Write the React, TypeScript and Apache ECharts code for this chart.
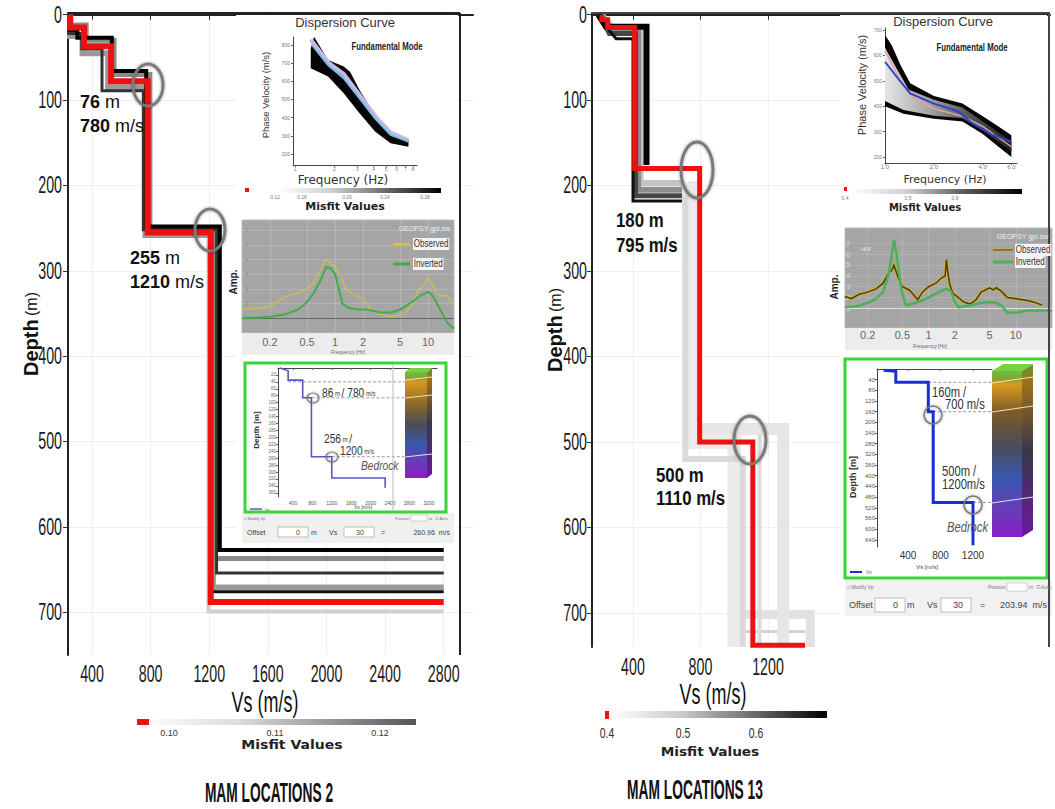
import React, { useEffect, useRef } from "react";
import * as echarts from "echarts";

// ---------------- DATA ----------------
const VS_TICKS_L = [400, 800, 1200, 1600, 2000, 2400, 2800];
const VS_TICKS_R = [400, 800, 1200];
const DEPTH_TICKS = [0, 100, 200, 300, 400, 500, 600, 700];

// MAM location 2 : best (red) profile and ensemble profiles [Vs, depth]
const L_RED = [[250, 0], [250, 15], [345, 15], [345, 37], [530, 37], [530, 78], [780, 78], [780, 255], [1210, 255], [1210, 688], [2800, 688]];
const L_ENS_A = [[245, 0], [245, 18], [300, 18], [300, 27], [535, 27], [535, 66], [770, 66], [770, 248], [1272, 248], [1272, 627], [2800, 627]];
const L_ENS_B = [[240, 0], [240, 22], [330, 22], [330, 40], [468, 40], [468, 89], [750, 89], [750, 252], [1250, 252], [1250, 654], [2800, 654]];
const L_ENS_C = [[255, 0], [255, 12], [360, 12], [360, 30], [550, 30], [550, 70], [795, 70], [795, 250], [1238, 250], [1238, 637], [2800, 637]];
const L_ENS_D = [[250, 0], [250, 25], [335, 25], [335, 45], [510, 45], [510, 85], [765, 85], [765, 258], [1225, 258], [1225, 671], [2800, 671]];
const L_ENS_E = [[1215, 260], [1215, 676], [2800, 676]];
const L_ENS_F = [[1195, 262], [1195, 699], [2800, 699]];

// MAM location 13
const R_RED = [[215, 0], [215, 6], [250, 6], [250, 15], [410, 15], [410, 180], [795, 180], [795, 500], [1110, 500], [1110, 738], [1420, 738]];
const R_BLACK = [[195, 0], [210, 5], [240, 14], [480, 14], [480, 176]];
const R_G1 = [[200, 0], [250, 16], [300, 28], [400, 28], [400, 218], [690, 218]];
const R_G2 = [[205, 0], [260, 22], [415, 22], [415, 212], [690, 212]];
const R_G3 = [[210, 0], [270, 18], [430, 18], [430, 205], [690, 205]];
const R_G4 = [[215, 0], [280, 16], [445, 16], [445, 197], [690, 197]];
const R_L1 = [[690, 205], [735, 205], [735, 500], [1000, 500], [1000, 740]];
const R_L2 = [[690, 215], [710, 215], [710, 520], [1050, 520], [1050, 740]];
const R_L3 = [[760, 195], [760, 485], [1290, 485], [1290, 740]];
const R_L4 = [[1150, 490], [1150, 740]];
const R_L5 = [[1000, 702], [1450, 702], [1450, 740]];
const R_L6 = [[1000, 722], [1420, 722]];

// Dispersion curves [frequency Hz, phase velocity m/s]
const L_DISP_UP = [[1.32, 780], [1.4, 846], [1.79, 717], [2.36, 681], [2.64, 653], [3.12, 552], [3.9, 442], [4.86, 341], [6.06, 295], [7.4, 281]];
const L_DISP_LO = [[7.4, 240], [5.4, 259], [4.1, 323], [3.12, 424], [2.36, 534], [1.79, 626], [1.32, 672]];
const L_DISP_CYAN = [[1.35, 800], [1.79, 690], [2.36, 617], [3.12, 506], [4.1, 396], [5.4, 305], [7.4, 268]];
const L_DISP_PINK = [[1.32, 830], [1.79, 705], [2.36, 640], [3.12, 525], [4.1, 410], [5.4, 318], [7.4, 275]];

const R_DISP_UP = [[1.0, 680], [1.1, 640], [1.25, 560], [1.43, 490], [2.0, 440], [3.0, 410], [4.0, 360], [5.0, 320], [6.0, 285]];
const R_DISP_LO = [[6.0, 200], [5.0, 240], [4.0, 290], [3.0, 340], [2.0, 350], [1.3, 370], [1.0, 400]];
const R_DISP_IN_UP = [[1.0, 630], [1.15, 560], [1.4, 465], [2.0, 425], [3.0, 395], [4.0, 340], [6.0, 262]];
const R_DISP_IN_LO = [[6.0, 222], [4.0, 305], [3.0, 352], [2.0, 362], [1.3, 385], [1.0, 420]];
const R_DISP_BLUE = [[1.0, 575], [1.2, 510], [1.43, 450], [2.0, 410], [2.8, 380], [3.5, 330], [4.5, 290], [6.0, 260]];
const R_DISP_PINK = [[1.0, 620], [1.2, 520], [1.43, 440], [2.0, 390], [3.0, 360], [4.0, 320], [6.0, 240]];

// H/V curves [frequency Hz, amplitude]
const L_HV_OBS = [[0.1, 1.6], [0.15, 1.7], [0.2, 1.8], [0.25, 2.2], [0.3, 2.5], [0.4, 2.7], [0.5, 3.0], [0.6, 3.5], [0.7, 4.3], [0.8, 5.0], [0.9, 4.8], [1.0, 4.5], [1.2, 3.6], [1.3, 3.0], [1.5, 2.7], [1.8, 2.5], [2.2, 2.0], [2.5, 1.5], [3, 1.3], [4, 1.1], [5, 1.2], [6, 1.5], [7, 2.2], [8, 3.0], [9, 3.2], [10, 3.8], [11, 3.4], [12, 2.8], [14, 2.5], [16, 2.6], [19, 1.8]];
const L_HV_INV = [[0.1, 1.0], [0.2, 1.1], [0.3, 1.3], [0.4, 1.6], [0.5, 2.1], [0.6, 2.8], [0.7, 3.6], [0.8, 4.5], [0.9, 4.4], [1.0, 4.0], [1.1, 3.0], [1.2, 2.0], [1.4, 1.7], [1.8, 1.6], [2.2, 1.6], [3, 1.4], [4, 1.4], [5, 1.6], [6, 1.9], [7, 2.2], [8, 2.5], [10, 2.8], [11, 2.6], [12, 2.2], [14, 1.4], [16, 0.7], [19, 0.3]];
const R_HV_OBS = [[0.11, 2.1], [0.13, 1.9], [0.16, 2.3], [0.2, 2.5], [0.25, 2.8], [0.3, 3.3], [0.35, 4.3], [0.38, 4.5], [0.4, 5.0], [0.42, 4.5], [0.45, 3.8], [0.5, 3.0], [0.6, 2.7], [0.65, 2.4], [0.75, 1.8], [0.85, 2.5], [1.0, 3.0], [1.2, 3.3], [1.4, 3.8], [1.55, 4.0], [1.6, 5.5], [1.65, 4.5], [1.75, 3.2], [1.9, 2.4], [2.2, 2.0], [2.5, 1.6], [3, 1.4], [3.5, 1.8], [4, 2.5], [5, 2.9], [5.5, 2.7], [6, 2.9], [7, 2.5], [8, 2.0], [10, 1.9], [12, 1.8], [14, 1.7], [16, 1.6], [20, 1.3]];
const R_HV_INV = [[0.11, 1.1], [0.15, 1.2], [0.2, 1.5], [0.25, 1.9], [0.3, 2.5], [0.35, 4.2], [0.38, 6.0], [0.4, 7.3], [0.43, 6.0], [0.47, 3.5], [0.5, 2.3], [0.55, 1.3], [0.7, 1.5], [1.0, 2.0], [1.3, 2.5], [1.6, 2.8], [1.8, 2.6], [2.0, 1.6], [2.2, 1.1], [3, 1.3], [4, 1.5], [5, 1.6], [6, 1.5], [7, 1.2], [8, 0.6], [10, 0.6], [14, 0.8], [26, 0.8]];

// Inset Vs profiles (green boxes)
const L_INSET_VS = [[130, 0], [300, 8], [300, 35], [600, 35], [600, 86], [780, 86], [780, 256], [1200, 256], [1200, 317], [2300, 317], [2300, 345]];
const L_INSET_DASH = [[300, 40], [780, 86], [1200, 256]];
const R_INSET_VS = [[100, 5], [250, 8], [250, 50], [650, 50], [650, 160], [710, 160], [710, 500], [1200, 500], [1200, 660]];
const R_INSET_DASH = [[650, 50], [710, 160], [1200, 500]];

const DISP_L_FTICKS = [1, 2, 3, 4, 5, 6, 7, 8];
const DISP_L_VTICKS = [200, 300, 400, 500, 600, 700, 800];
const DISP_R_FTICKS = [1, 2, 4, 6];
const DISP_R_VTICKS = [200, 300, 400, 500, 600, 700];
const HV_FTICKS = [0.2, 0.5, 1, 2, 5, 10];
const HV_ATICKS = [1, 2, 3, 4, 5, 6, 7];
const INSET_L_VS_TICKS = [400, 800, 1200, 1600, 2000, 2400, 2800, 3200];
const INSET_L_D_TICKS = [20, 40, 60, 80, 100, 120, 140, 160, 180, 200, 220, 240, 260, 280, 300, 320, 340, 360];
const INSET_R_D_TICKS = [40, 80, 120, 160, 200, 240, 280, 320, 360, 400, 440, 480, 520, 560, 600, 640];

// ---------------- STYLE ----------------
const SANS = "'Liberation Sans',Arial,sans-serif";
const WIDE = "'DejaVu Sans',Verdana,sans-serif";

const line = (data, xi, color, width, z = 3, extra = {}) => ({
  type: "line", xAxisIndex: xi, yAxisIndex: xi, data, symbol: "none", showSymbol: false,
  silent: true, z, clip: false, lineStyle: { color, width, join: "miter", cap: "butt" }, ...extra,
});

const poly = (pts, xi, fill, z = 6) => ({
  type: "custom", xAxisIndex: xi, yAxisIndex: xi, silent: true, z, clip: false,
  data: [pts[0]],
  renderItem: (_p, api) => ({
    type: "polygon",
    shape: { points: pts.map((p) => api.coord(p)) },
    style: { fill },
  }),
});

const dashes = (pts, xi, xEnd, z = 6) => ({
  type: "custom", xAxisIndex: xi, yAxisIndex: xi, silent: true, z, clip: false,
  data: pts,
  renderItem: (_p, api) => {
    const a = api.coord([api.value(0), api.value(1)]);
    const b = api.coord([xEnd, api.value(1)]);
    return { type: "line", shape: { x1: a[0], y1: a[1], x2: b[0], y2: b[1] }, style: { stroke: "#999", lineWidth: 1, lineDash: [3, 2] } };
  },
});

const txt = (text, x, y, o: any = {}) => ({
  type: "text", x, y, z: o.z ?? 30, rotation: o.rot ?? 0, scaleX: o.sx ?? 1, scaleY: o.sy ?? 1,
  style: {
    text, fill: o.color ?? "#222", fontSize: o.size ?? 12, fontFamily: o.font ?? SANS,
    fontWeight: o.weight ?? "normal", fontStyle: o.fstyle ?? "normal",
    textAlign: o.align ?? "left", textVerticalAlign: o.valign ?? "middle", verticalAlign: o.valign ?? "middle",
    rich: o.rich, backgroundColor: o.bg, padding: o.pad,
  },
});
const rect = (x, y, w, h, style, z = 1) => ({ type: "rect", z, shape: { x, y, width: w, height: h }, style });
const seg = (x1, y1, x2, y2, stroke, lineWidth = 1, z = 25) => ({ type: "line", z, shape: { x1, y1, x2, y2 }, style: { stroke, lineWidth } });
const ell = (cx, cy, rx, ry, lw = 3, z = 25) => ({ type: "ellipse", z, shape: { cx, cy, rx, ry }, style: { fill: "none", stroke: "#7a7a7a", lineWidth: lw, shadowBlur: 3, shadowColor: "rgba(0,0,0,0.4)" } });
const hgrad = (stops) => new echarts.graphic.LinearGradient(0, 0, 1, 0, stops.map((c, i) => ({ offset: i / (stops.length - 1), color: c })));
const vgrad = (stops) => new echarts.graphic.LinearGradient(0, 0, 0, 1, stops.map(([o, c]) => ({ offset: o, color: c })));

const mainX = (min, max, ticks) => ({
  type: "value", min, max, z: 0,
  axisLine: { show: true, lineStyle: { color: "#222", width: 2 } },
  axisTick: { show: true, length: 5, customValues: ticks, lineStyle: { color: "#333" } },
  axisLabel: { show: false, customValues: ticks },
  splitLine: { show: true, lineStyle: { color: "#efefef" } },
});
const mainY = (max) => ({
  type: "value", inverse: true, min: -2, max, z: 0,
  axisLine: { show: true, lineStyle: { color: "#222", width: 2 } },
  axisTick: { show: true, length: 5, customValues: DEPTH_TICKS, lineStyle: { color: "#333" } },
  axisLabel: { show: false, customValues: DEPTH_TICKS },
  splitLine: { show: true, lineStyle: { color: "#efefef" } },
  name: "{b|Depth} {n|(m)}", nameLocation: "middle", nameGap: 27,
  nameTextStyle: { rich: { b: { fontSize: 20, fontWeight: "bold", fontFamily: SANS, color: "#111" }, n: { fontSize: 16, fontFamily: SANS, color: "#111" } } },
});
const smallAx = (o: any) => ({
  z: 5, axisLine: { show: o.line !== false, lineStyle: { color: o.lc ?? "#444", width: 1 } },
  axisTick: { show: o.tick !== false, length: 2, customValues: o.ticks, lineStyle: { color: "#666" } },
  axisLabel: { customValues: o.ticks, fontSize: o.fs, color: o.color ?? "#777", margin: o.margin ?? 3, fontFamily: o.font ?? SANS, inside: !!o.inside, formatter: o.fmt ?? ((v) => String(v)) },
  splitLine: { show: !!o.split, lineStyle: { color: o.split ?? "#ddd", width: 1 } },
});

export default function App() {
  const ref = useRef<HTMLDivElement>(null);
  useEffect(() => {
    const chart = echarts.init(ref.current, null, { renderer: "svg" });
    const grid = [
      { left: 68, top: 13, width: 405, height: 642 },
      { left: 293, top: 37, width: 124, height: 128 },
      { left: 242, top: 220, width: 212, height: 113 },
      { left: 278, top: 368, width: 159, height: 129 },
      { left: 592, top: 13, width: 458, height: 634 },
      { left: 885, top: 28, width: 132, height: 135 },
      { left: 845, top: 228, width: 207, height: 100 },
      { left: 877, top: 369, width: 115, height: 178 },
    ];
    const xAxis = [
      { gridIndex: 0, ...mainX(236, 3000, VS_TICKS_L) },
      { gridIndex: 1, type: "log", min: 0.965, max: 8.6, ...smallAx({ ticks: DISP_L_FTICKS, fs: 5, margin: 1 }) },
      { gridIndex: 2, type: "log", min: 0.1, max: 19, ...smallAx({ ticks: HV_FTICKS, fs: 11, color: "#666", line: false, tick: false, margin: 3, split: "rgba(255,255,255,0.18)" }) },
      { gridIndex: 3, type: "value", min: 91, max: 3369, ...smallAx({ ticks: INSET_L_VS_TICKS, fs: 5, color: "#555" }) },
      { gridIndex: 4, ...mainX(157, 2871, VS_TICKS_R) },
      { gridIndex: 5, type: "log", min: 1, max: 6.5, ...smallAx({ ticks: DISP_R_FTICKS, fs: 6, margin: 1, fmt: (v) => Number(v).toFixed(1) }) },
      { gridIndex: 6, type: "log", min: 0.11, max: 26, ...smallAx({ ticks: HV_FTICKS, fs: 11, color: "#666", line: false, tick: false, margin: 1, split: "rgba(255,255,255,0.15)" }) },
      { gridIndex: 7, type: "value", min: 18.5, max: 1434, ...smallAx({ ticks: VS_TICKS_R, fs: 10, color: "#333" }) },
    ];
    const yAxis = [
      { gridIndex: 0, ...mainY(750) },
      { gridIndex: 1, type: "value", min: 139, max: 844, ...smallAx({ ticks: DISP_L_VTICKS, fs: 5 }) },
      { gridIndex: 2, type: "value", min: 0, max: 7.7, ...smallAx({ ticks: HV_ATICKS, fs: 6, color: "#8a8a8a", line: false, tick: false, inside: true, split: "rgba(255,255,255,0.18)" }) },
      { gridIndex: 3, type: "value", inverse: true, min: 0, max: 372, ...smallAx({ ticks: INSET_L_D_TICKS, fs: 4.5, color: "#666", margin: 2 }) },
      { gridIndex: 4, ...mainY(740) },
      { gridIndex: 5, type: "value", min: 176, max: 708, ...smallAx({ ticks: DISP_R_VTICKS, fs: 5 }) },
      { gridIndex: 6, type: "value", min: -0.8, max: 8.4, ...smallAx({ ticks: HV_ATICKS, fs: 8, color: "#d8d8d8", line: false, tick: false, inside: true, margin: 1, split: "rgba(255,255,255,0.15)" }) },
      { gridIndex: 7, type: "value", inverse: true, min: 0, max: 667, ...smallAx({ ticks: INSET_R_D_TICKS, fs: 6, color: "#555", margin: 2 }) },
    ];

    const series = [
      // left main
      line(L_ENS_F, 0, "#d0d0d0", 4, 3),
      line(L_ENS_D, 0, "#9a9a9a", 6, 3),
      line(L_ENS_E, 0, "#111", 3, 3),
      line(L_ENS_C, 0, "#8a8a8a", 5, 3),
      line(L_ENS_B, 0, "#333", 3, 3),
      line(L_ENS_A, 0, "#000", 4, 3),
      line(L_RED, 0, "#ee1111", 6, 4),
      // left dispersion
      poly([...L_DISP_UP, ...L_DISP_LO], 1, "#050505", 6),
      line(L_DISP_PINK, 1, "#c9b8e6", 4, 7),
      line(L_DISP_CYAN, 1, "#6fc6e8", 2, 8),
      // left HV
      line(L_HV_OBS, 2, "#cdbb5a", 1.5, 7, { markLine: { silent: true, symbol: "none", label: { show: false }, lineStyle: { color: "#666", width: 1, type: "solid" }, data: [{ yAxis: 1 }] } }),
      line(L_HV_INV, 2, "#3fae49", 2, 8),
      // left inset Vs
      dashes(L_INSET_DASH, 3, 2709),
      line(L_INSET_VS, 3, "#5656c8", 1.6, 8),
      // right main
      line(R_L6, 4, "#d2d2d2", 3, 2),
      line(R_L5, 4, "#e2e2e2", 9, 2),
      line(R_L3, 4, "#e6e6e6", 12, 2),
      line(R_L1, 4, "#ebebeb", 14, 2),
      line(R_L2, 4, "#dadada", 6, 2),
      line(R_L4, 4, "#dcdcdc", 4, 2),
      line(R_G4, 4, "#c4c4c4", 6, 3),
      line(R_G3, 4, "#8c8c8c", 6, 3),
      line(R_G2, 4, "#454545", 5, 3),
      line(R_G1, 4, "#111", 3, 3),
      line(R_BLACK, 4, "#000", 6, 3),
      line(R_RED, 4, "#ee1111", 5, 4),
      // right dispersion
      poly([...R_DISP_UP, ...R_DISP_LO], 5, "#050505", 6),
      poly([...R_DISP_IN_UP, ...R_DISP_IN_LO], 5, hgrad(["#e6e6e6", "#a8a8a8", "#555", "#222"]), 6),
      line(R_DISP_PINK, 5, "#e3a0a8", 1.5, 7),
      line(R_DISP_BLUE, 5, "#2847c8", 2, 8),
      // right HV
      line(R_HV_OBS, 6, "#c9b23e", 3.5, 7, { markLine: { silent: true, symbol: "none", label: { show: false }, lineStyle: { color: "#e0e0e0", width: 1, type: "solid" }, data: [{ yAxis: 1 }] } }),
      line(R_HV_OBS, 6, "#4a3c18", 1.5, 8),
      line(R_HV_INV, 6, "#4cb05a", 2.5, 8),
      // right inset Vs
      dashes(R_INSET_DASH, 7, 1434),
      line(R_INSET_VS, 7, "#1a2fd0", 3, 8),
    ];

    chart.setOption({ animation: false, backgroundColor: "#fff", grid, xAxis, yAxis, series });

    // main tick labels placed through the axes' own scales
    const tickLabels: any[] = [];
    const addX = (ticks, axis, yPix) => ticks.forEach((v) => {
      const px = chart.convertToPixel({ xAxisIndex: axis }, v) as number;
      tickLabels.push(txt(String(v), px, yPix, { size: 23, sx: 0.62, align: "center", color: "#1a1a1a" }));
    });
    const addY = (axis, xPix) => DEPTH_TICKS.forEach((v) => {
      const py = chart.convertToPixel({ yAxisIndex: axis }, v) as number;
      tickLabels.push(txt(String(v), xPix, py, { size: 23, sx: 0.62, align: "right", color: "#1a1a1a" }));
    });
    addX(VS_TICKS_L, 0, 674);
    addX(VS_TICKS_R, 4, 667);
    addY(0, 62);
    addY(4, 587);

    const colL = vgrad([[0, "#6cc040"], [0.06, "#8aa030"], [0.09, "#d99a20"], [0.3, "#8a6a2a"], [0.5, "#4c4c58"], [0.7, "#3858b0"], [0.85, "#6a3ab8"], [1, "#8a1ec8"]]);
    const colR = vgrad([[0, "#6cc040"], [0.05, "#8aa030"], [0.08, "#d99a20"], [0.25, "#7a5a2a"], [0.45, "#4c4c58"], [0.65, "#3858b0"], [0.85, "#6a3ab8"], [1, "#8a1ec8"]]);
    const rb = { fontSize: 18, fontWeight: "bold", fontFamily: SANS, fill: "#111" };
    const rn = { fontSize: 18, fontFamily: SANS, fill: "#111" };
    const ia = { fontSize: 12, fontFamily: SANS, fill: "#333" };
    const ib = { fontSize: 7, fontFamily: SANS, fill: "#333" };

    const graphic = [
      ...tickLabels,
      // frames
      seg(68, 13, 460, 13, "#222", 2, 20), seg(460, 13, 460, 655, "#222", 2, 20),
      seg(592, 13, 1050, 13, "#444", 2, 20), seg(1049, 13, 1049, 647, "#444", 2, 20),
      // inset backgrounds (left)
      rect(236, 15, 222, 528, { fill: "#fff" }, 1),
      rect(242, 220, 212, 113, { fill: "#a5a5a5", stroke: "#bbb", lineWidth: 1 }, 2),
      rect(242, 333, 212, 22, { fill: "#ececec" }, 2),
      rect(242, 513, 212, 30, { fill: "#f0f0f0" }, 2),
      rect(245, 363, 201, 149, { fill: "#fff", stroke: "#38d438", lineWidth: 3 }, 2),
      // inset backgrounds (right)
      rect(840, 15, 207, 602, { fill: "#fff" }, 1),
      rect(845, 228, 207, 100, { fill: "#a5a5a5", stroke: "#bbb", lineWidth: 1 }, 2),
      rect(845, 328, 207, 22, { fill: "#ececec" }, 2),
      rect(845, 580, 207, 36, { fill: "#f1f1f1" }, 2),
      rect(845, 359, 202, 219, { fill: "#fff", stroke: "#38d438", lineWidth: 3 }, 2),

      // main ellipses
      ell(148, 85, 15, 21), ell(210, 230, 15, 21), ell(697, 170, 16, 28), ell(750, 440, 16, 24),
      // main annotations
      txt("{b|76}{n| m}", 80, 102, { rich: { b: rb, n: rn } }),
      txt("{b|780}{n| m/s}", 80, 126, { rich: { b: rb, n: rn } }),
      txt("{b|255}{n| m}", 130, 258, { rich: { b: rb, n: rn } }),
      txt("{b|1210}{n| m/s}", 130, 282, { rich: { b: rb, n: rn } }),
      txt("180 m", 616, 220, { size: 21, weight: "bold", sx: 0.8, color: "#111" }),
      txt("795 m/s", 616, 245, { size: 21, weight: "bold", sx: 0.8, color: "#111" }),
      txt("500 m", 656, 475, { size: 21, weight: "bold", sx: 0.8, color: "#111" }),
      txt("1110 m/s", 656, 498, { size: 21, weight: "bold", sx: 0.8, color: "#111" }),
      // axis names
      txt("Vs (m/s)", 265, 702, { size: 29, align: "center", sx: 0.62, color: "#111" }),
      txt("Vs (m/s)", 713, 694, { size: 29, align: "center", sx: 0.62, color: "#111" }),
      // main colorbars
      rect(137, 719, 12, 6, { fill: "#ee1111" }, 20),
      rect(150, 719, 266, 6, { fill: hgrad(["#fbfbfb", "#dcdcdc", "#9a9a9a", "#555"]) }, 20),
      txt("0.10", 169, 733, { size: 9, align: "center", color: "#333" }),
      txt("0.11", 275, 733, { size: 9, align: "center", color: "#333" }),
      txt("0.12", 380, 733, { size: 9, align: "center", color: "#333" }),
      txt("Misfit Values", 292, 744, { size: 13, weight: "bold", font: WIDE, align: "center", color: "#222", sx: 1.08 }),
      rect(605, 711, 4, 8, { fill: "#ee1111" }, 20),
      rect(611, 711, 216, 7, { fill: hgrad(["#ffffff", "#c8c8c8", "#6a6a6a", "#000"]) }, 20),
      txt("0.4", 607, 733, { size: 15, align: "center", color: "#333", sx: 0.7 }),
      txt("0.5", 683, 733, { size: 15, align: "center", color: "#333", sx: 0.7 }),
      txt("0.6", 756, 733, { size: 15, align: "center", color: "#333", sx: 0.7 }),
      txt("Misfit Values", 710, 752, { size: 13, weight: "bold", font: WIDE, align: "center", color: "#222", sx: 1.05 }),
      // titles
      txt("MAM LOCATIONS 2", 269, 793, { size: 27, weight: "bold", align: "center", sx: 0.51, color: "#111" }),
      txt("MAM LOCATIONS 13", 695, 790, { size: 27, weight: "bold", align: "center", sx: 0.51, color: "#111" }),

      // left dispersion inset texts
      txt("Dispersion Curve", 345, 22, { size: 13, align: "center", color: "#333" }),
      txt("Fundamental Mode", 387, 47, { size: 10, weight: "bold", align: "center", color: "#222", sx: 0.78 }),
      txt("Phase Velocity (m/s)", 265, 95, { size: 9.5, align: "center", rot: Math.PI / 2, color: "#333" }),
      txt("Frequency (Hz)", 343, 180, { size: 12, font: WIDE, align: "center", color: "#333" }),
      rect(245, 188, 4, 4, { fill: "#ee1111" }, 20),
      rect(277, 188, 164, 5, { fill: hgrad(["#ffffff", "#cfcfcf", "#6a6a6a", "#000"]) }, 20),
      txt("0.12", 275, 197, { size: 5, align: "center", color: "#777" }),
      txt("0.16", 302, 197, { size: 5, align: "center", color: "#777" }),
      txt("0.20", 347, 197, { size: 5, align: "center", color: "#777" }),
      txt("0.24", 385, 197, { size: 5, align: "center", color: "#777" }),
      txt("0.28", 425, 197, { size: 5, align: "center", color: "#777" }),
      txt("Misfit Values", 345, 206, { size: 11, weight: "bold", font: WIDE, align: "center", color: "#222" }),
      // left HV texts
      txt("GEOPSY gpl.sw", 450, 228, { size: 7, align: "right", color: "#eee" }),
      seg(393, 244, 410, 244, "#d8c23a", 2.5, 25),
      txt("Observed", 413, 244, { size: 10, sx: 0.8, color: "#333", bg: "#f4f4f4", pad: [1, 1] }),
      seg(393, 264, 410, 264, "#3fae49", 3, 25),
      txt("Inverted", 413, 264, { size: 10, sx: 0.8, color: "#333", bg: "#f4f4f4", pad: [1, 1] }),
      txt("Amp.", 233, 282, { size: 10, weight: "bold", align: "center", rot: Math.PI / 2, color: "#222" }),
      txt("Frequency [Hz]", 348, 352, { size: 5, align: "center", color: "#666" }),
      // left green inset
      seg(393, 364, 393, 511, "#bbb", 1, 6),
      rect(405, 372, 22, 106, { fill: colL }, 6),
      { type: "polygon", z: 6, shape: { points: [[427, 372], [432, 368], [432, 474], [427, 478]] }, style: { fill: vgrad([[0, "#5aa030"], [0.1, "#a07018"], [0.5, "#383848"], [1, "#6a18a0"]]) } },
      { type: "polygon", z: 6, shape: { points: [[405, 372], [410, 368], [432, 368], [427, 372]] }, style: { fill: "#7ad040" } },
      seg(405, 380, 432, 377, "#f2e6b0", 1, 7), seg(405, 398, 432, 395, "#f2e6b0", 1, 7), seg(405, 457, 432, 454, "#e0e0f0", 1, 7),
      ell(313, 398, 6, 5, 1.2), ell(332, 457, 6, 5, 1.2),
      txt("{a|86}{b| m }{a|/ 780}{b| m/s}", 322, 393, { rich: { a: ia, b: ib }, sx: 0.85 }),
      txt("{a|256}{b| m }{a|/}", 324, 439, { rich: { a: ia, b: ib }, sx: 0.85 }),
      txt("{a|1200}{b| m/s}", 340, 451, { rich: { a: ia, b: ib }, sx: 0.85 }),
      txt("Bedrock", 361, 466, { size: 12, fstyle: "italic", sx: 0.85, color: "#555" }),
      txt("Depth [m]", 256, 430, { size: 8, weight: "bold", align: "center", rot: Math.PI / 2, color: "#333" }),
      txt("Vs [m/s]", 363, 507, { size: 5, align: "center", color: "#444" }),
      seg(250, 509, 262, 509, "#5656c8", 1.5, 25), txt("Vs", 265, 509, { size: 4, color: "#666" }),
      txt("\u25a1 Modify Vp", 244, 518, { size: 4, color: "#777" }),
      txt("Poisson", 395, 518, { size: 4, color: "#777" }), rect(411, 515, 16, 6, { fill: "#fff", stroke: "#aaa", lineWidth: 0.5 }, 20),
      txt("m  \u2611 Auto", 429, 518, { size: 4, color: "#777" }),
      txt("Offset", 247, 532, { size: 7, color: "#444" }),
      rect(278, 527, 30, 10, { fill: "#fff", stroke: "#999", lineWidth: 0.6 }, 20), txt("0", 296, 532, { size: 7, color: "#444" }),
      txt("m", 311, 532, { size: 7, color: "#444" }), txt("Vs", 329, 532, { size: 7, color: "#444" }),
      rect(344, 527, 30, 10, { fill: "#fff", stroke: "#999", lineWidth: 0.6 }, 20), txt("30", 356, 532, { size: 7, color: "#444" }),
      txt("=", 381, 532, { size: 7, color: "#444" }), txt("260.96  m/s", 450, 532, { size: 7, color: "#444", align: "right" }),

      // right dispersion inset texts
      txt("Dispersion Curve", 943, 21, { size: 13, align: "center", color: "#333" }),
      txt("Fundamental Mode", 972, 48, { size: 10, weight: "bold", align: "center", color: "#222", sx: 0.78 }),
      txt("Phase Velocity (m/s)", 862, 85, { size: 11, align: "center", rot: Math.PI / 2, color: "#333" }),
      txt("Frequency (Hz)", 945, 179, { size: 11, font: WIDE, align: "center", color: "#333" }),
      rect(844, 187, 3, 4, { fill: "#ee1111" }, 20),
      rect(850, 189, 172, 5, { fill: hgrad(["#ffffff", "#cfcfcf", "#5a5a5a", "#000"]) }, 20),
      txt("0.4", 845, 198, { size: 5, align: "center", color: "#777" }),
      txt("0.5", 908, 198, { size: 5, align: "center", color: "#777" }),
      txt("0.6", 955, 198, { size: 5, align: "center", color: "#777" }),
      txt("Misfit Values", 925, 207, { size: 10, weight: "bold", font: WIDE, align: "center", color: "#222" }),
      // right HV texts
      txt("GEOPSY gpl.sw", 1048, 236, { size: 7, align: "right", color: "#eee" }),
      seg(993, 250, 1013, 250, "#c9b23e", 3, 25), seg(993, 250, 1013, 250, "#4a3c18", 1, 26),
      txt("Observed", 1015, 250, { size: 10, sx: 0.8, color: "#333", bg: "#f4f4f4", pad: [1, 1] }),
      seg(993, 262, 1013, 262, "#4cb05a", 3, 25),
      txt("Inverted", 1015, 262, { size: 10, sx: 0.8, color: "#333", bg: "#f4f4f4", pad: [1, 1] }),
      txt("H/V", 866, 249, { size: 6, color: "#eee", align: "center" }),
      txt("Amp.", 834, 287, { size: 10, weight: "bold", align: "center", rot: Math.PI / 2, color: "#222" }),
      txt("Frequency [Hz]", 930, 346, { size: 5, align: "center", color: "#666" }),
      // right green inset
      rect(992, 371, 30, 166, { fill: colR }, 6),
      { type: "polygon", z: 6, shape: { points: [[1022, 371], [1033, 364], [1033, 530], [1022, 537]] }, style: { fill: vgrad([[0, "#5aa030"], [0.1, "#a07018"], [0.5, "#383848"], [1, "#6a18a0"]]) } },
      { type: "polygon", z: 6, shape: { points: [[992, 371], [1003, 364], [1033, 364], [1022, 371]] }, style: { fill: "#7ad040" } },
      seg(992, 383, 1033, 377, "#f2e6b0", 1, 7), seg(992, 412, 1033, 406, "#f2e6b0", 1, 7), seg(992, 503, 1033, 497, "#e0e0f0", 1, 7),
      ell(933, 415, 9, 9, 1.5), ell(973, 505, 9, 9, 1.5),
      txt("160m /", 932, 393, { size: 14, sx: 0.8, color: "#333" }),
      txt("700 m/s", 945, 405, { size: 14, sx: 0.8, color: "#333" }),
      txt("500m /", 942, 472, { size: 14, sx: 0.8, color: "#333" }),
      txt("1200m/s", 942, 485, { size: 14, sx: 0.8, color: "#333" }),
      txt("Bedrock", 947, 528, { size: 14, fstyle: "italic", sx: 0.8, color: "#555" }),
      txt("Depth [m]", 853, 477, { size: 9, weight: "bold", align: "center", rot: Math.PI / 2, color: "#333" }),
      txt("Vs [m/s]", 927, 567, { size: 6, align: "center", color: "#444" }),
      seg(850, 572, 862, 572, "#1a2fd0", 2, 25), txt("Vs", 866, 572, { size: 5, color: "#666" }),
      txt("\u25a1 Modify Vp", 847, 587, { size: 5, color: "#777" }),
      txt("Poisson", 988, 587, { size: 5, color: "#777" }), rect(1007, 583, 20, 8, { fill: "#fff", stroke: "#aaa", lineWidth: 0.5 }, 20),
      txt("m  \u2611 Auto", 1029, 587, { size: 5, color: "#777" }),
      txt("Offset", 849, 605, { size: 9, color: "#444" }),
      rect(875, 598, 30, 14, { fill: "#fff", stroke: "#999", lineWidth: 0.6 }, 20), txt("0", 893, 605, { size: 9, color: "#444" }),
      txt("m", 907, 605, { size: 9, color: "#444" }), txt("Vs", 927, 605, { size: 9, color: "#444" }),
      rect(941, 598, 30, 14, { fill: "#fff", stroke: "#999", lineWidth: 0.6 }, 20), txt("30", 953, 605, { size: 9, color: "#444" }),
      txt("=", 980, 605, { size: 9, color: "#444" }), txt("203.94  m/s", 1047, 605, { size: 9, color: "#444", align: "right" }),
    ];

    chart.setOption({ graphic: { elements: graphic } });
    return () => chart.dispose();
  }, []);
  return <div ref={ref} style={{ position: "absolute", left: 0, top: 0, width: 1055, height: 809 }} />;
}
